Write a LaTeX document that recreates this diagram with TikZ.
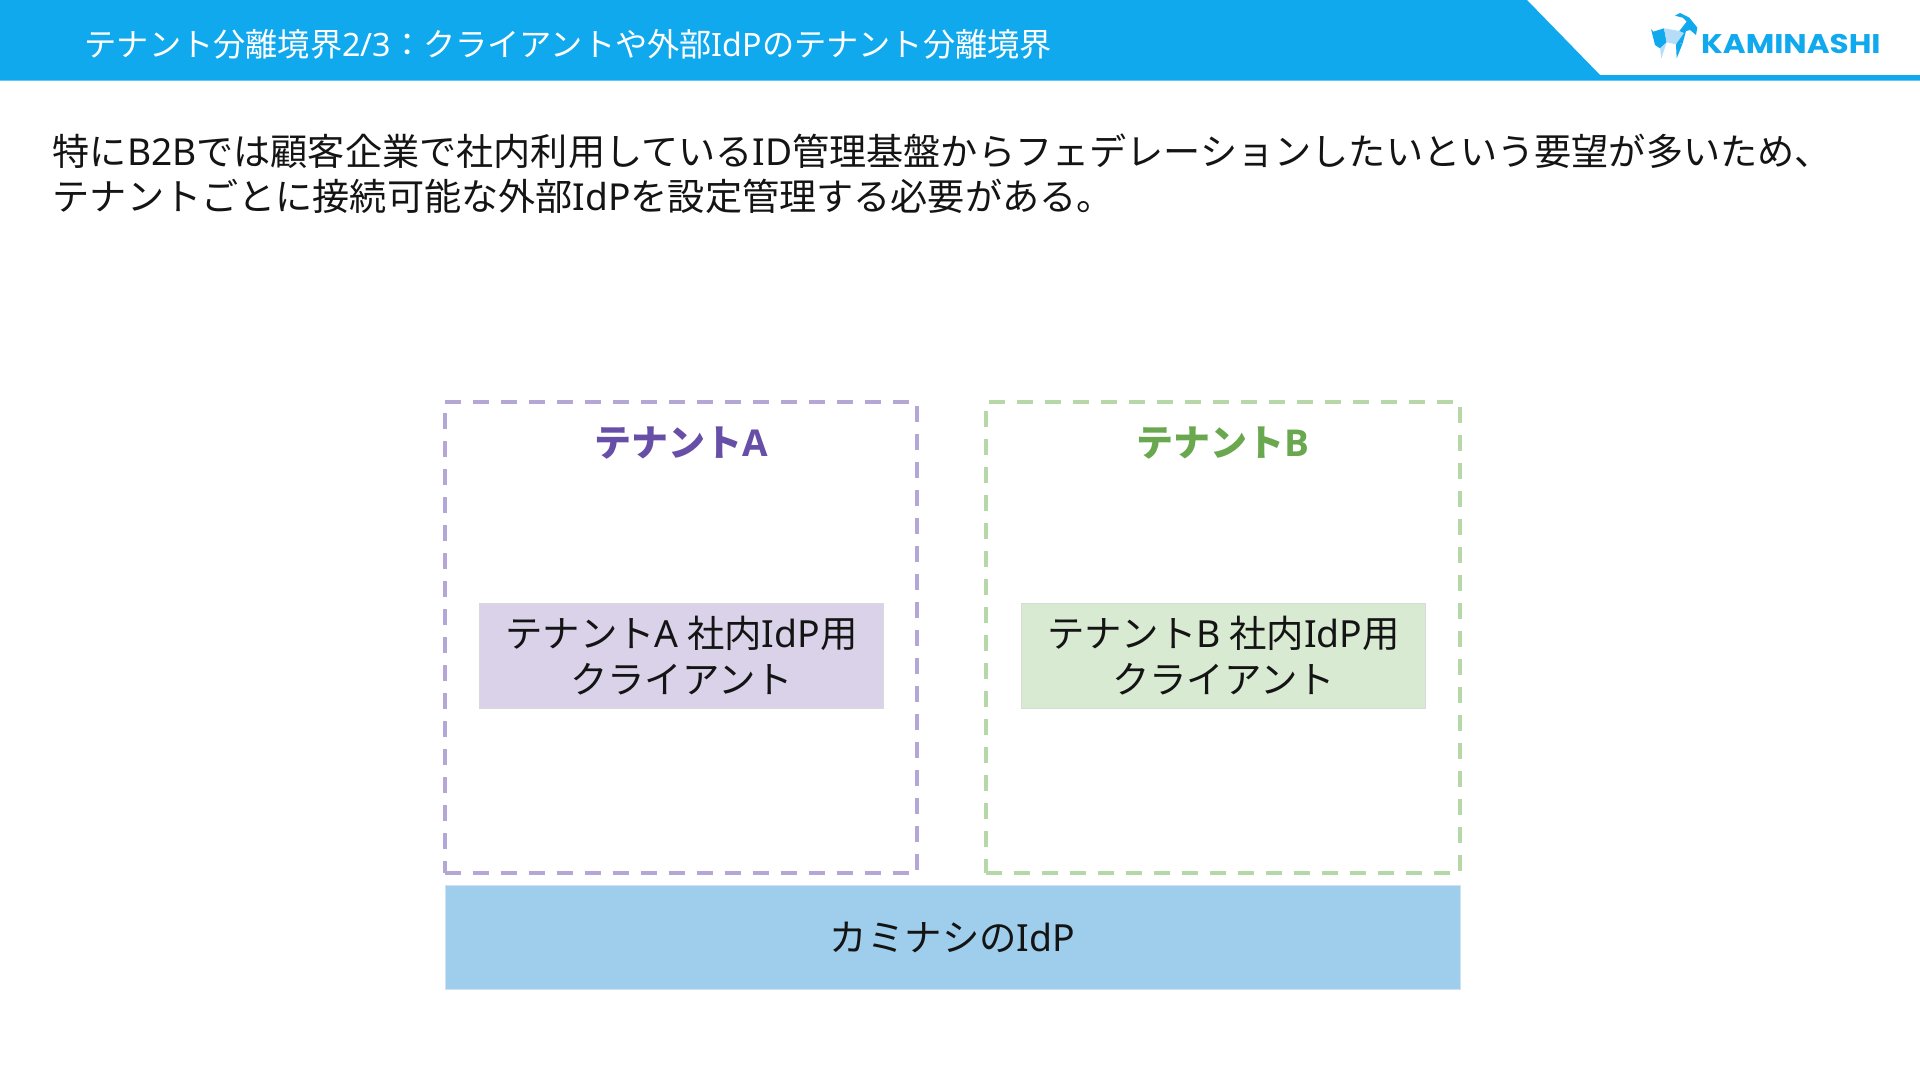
\documentclass[tikz,border=0pt]{standalone}
\usepackage{fontspec}
\setmainfont{Noto Sans CJK JP}
\newfontfamily\lat{Noto Sans}
\newfontfamily\latb{Open Sans}
\newfontfamily\logofont{Poppins}
\newcommand{\La}[1]{{\lat #1}}
\newcommand{\Lb}[1]{{\latb\bfseries #1}}
\definecolor{hdr}{HTML}{10A9EE}
\definecolor{hdrl}{HTML}{B5DDF8}
\definecolor{purpleline}{HTML}{B4A7D6}
\definecolor{purplefill}{HTML}{D9D2E9}
\definecolor{purpletext}{HTML}{674EA7}
\definecolor{greenline}{HTML}{B6D7A8}
\definecolor{greenfill}{HTML}{D9EAD3}
\definecolor{greentext}{HTML}{6AA84F}
\definecolor{bluefill}{HTML}{9FCEEC}
\definecolor{edgeb}{HTML}{CFE2F3}
\definecolor{inkc}{HTML}{141414}
\tikzset{
 tenant/.style={draw,line width=4pt,dash pattern=on 16pt off 12pt,fill=none,rectangle,anchor=north west,inner sep=0pt},
 inner/.style={rectangle,draw=white!85!black,line width=1pt,anchor=north west,inner sep=0pt,align=center,font=\fontsize{37.4}{45}\selectfont,text=inkc},
 ttl/.style={font=\fontsize{37}{45}\selectfont\bfseries},
}
\begin{document}
\begin{tikzpicture}[x=1pt,y=-1pt]
\useasboundingbox (0,0) rectangle (1920,1080);
\fill[white] (0,0) rectangle (1920,1080);
\fill[hdr] (0,0) -- (1527,0) -- (1600,75) -- (1920,75) -- (1920,80.5) -- (0,80.5) -- cycle;
\node[anchor=west,text=white,inner sep=0pt,font=\fontsize{32.2}{38}\selectfont] (head) at (84.5,44.3) {テナント分離境界\La{2/3}：クライアントや外部\La{IdP}のテナント分離境界};
% logo goat
\begin{scope}[shift={(1640,5)},x=0.3333pt,y=-0.3333pt]
\fill[hdr] (33,72) -- (40,80) -- (72,70) -- (80,112) -- (60,130) -- (45,120) -- cycle;
\fill[hdrl] (72,70) -- (118,78) -- (132,84) -- (108,118) -- (80,112) -- cycle;
\fill[hdrl] (60,130) -- (80,112) -- (64,160) -- cycle;
\fill[hdr] (118,78) -- (140,50) -- (128,38) -- (105,32) -- (120,24) -- (148,38) -- (172,68) -- (168,90) -- (150,75) -- (138,78) -- (128,115) -- (108,118) -- (132,84) -- cycle;
\fill[hdr] (108,118) -- (128,115) -- (110,160) -- cycle;
\end{scope}
\node[anchor=west,text=hdr,inner sep=0pt,xscale=1.15,font=\logofont\fontsize{27}{28}\selectfont\bfseries] (logo) at (1701,44) {KAMINASHI};
\node[anchor=north west,inner sep=0pt,align=left,text=inkc,font=\fontsize{37.15}{45}\selectfont] (intro) at (52.5,133.5) {特に\La{B2B}では顧客企業で社内利用している\La{ID}管理基盤からフェデレーションしたいという要望が多いため、\\テナントごとに接続可能な外部\La{IdP}を設定管理する必要がある。};
\node[tenant,draw=purpleline,minimum width=472.5pt,minimum height=471.5pt] (ta) at (442.5,399.5) {};
\node[tenant,draw=greenline,minimum width=473.6pt,minimum height=471.5pt] (tb) at (984,399.5) {};
\node[ttl,text=purpletext] (tat) at (681,443.5) {テナント\Lb{A}};
\node[ttl,text=greentext] (tbt) at (1223,443.5) {テナント\Lb{B}};
\node[inner,fill=purplefill,minimum width=404pt,minimum height=105.5pt] (ca) at (479,602.5) {\raisebox{1pt}{テナント\La{A} 社内\La{IdP}用}\\クライアント};
\node[inner,fill=greenfill,minimum width=404pt,minimum height=105.5pt] (cb) at (1021,602.5) {\raisebox{1pt}{テナント\La{B} 社内\La{IdP}用}\\クライアント};
\node[inner,draw=edgeb,fill=bluefill,minimum width=1015pt,minimum height=104pt] (idp) at (444.5,885) {カミナシの\La{IdP}};
\end{tikzpicture}
\end{document}
